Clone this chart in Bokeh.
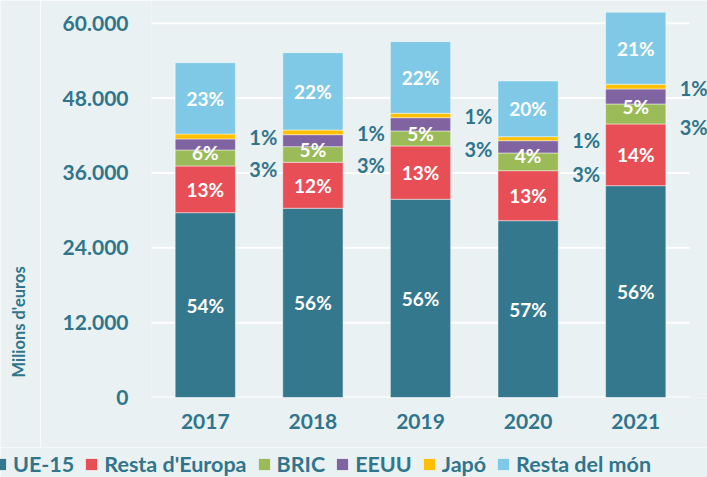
import numpy as np
from bokeh.plotting import figure
from bokeh.layouts import column, row
from bokeh.models import (ColumnDataSource, Range1d, FixedTicker,
                          LabelSet, Legend, LegendItem, Label)
from bokeh.core.properties import value
from bokeh.embed import file_html
from bokeh.resources import INLINE

# ---------------- data ----------------
years = ["2017", "2018", "2019", "2020", "2021"]
series = ["UE-15", "Resta d'Europa", "BRIC", "EEUU", "Japó", "Resta del món"]

ue15 = [29630, 30340, 31780, 28350, 33960]
resta_europa = [7490, 7375, 8545, 8015, 9895]
bric = [2565, 2500, 2405, 2840, 3205]
eeuu = [1765, 1925, 2135, 1970, 2405]
japo = [800, 750, 705, 640, 755]
resta_mon = [11425, 12395, 11480, 8930, 11545]

pct_ue15 = ["54%", "56%", "56%", "57%", "56%"]
pct_resta_europa = ["13%", "12%", "13%", "13%", "14%"]
pct_bric = ["6%", "5%", "5%", "4%", "5%"]
pct_eeuu = ["3%", "3%", "3%", "3%", "3%"]
pct_japo = ["1%", "1%", "1%", "1%", "1%"]
pct_resta_mon = ["23%", "22%", "22%", "20%", "21%"]

y_ticks = [0, 12000, 24000, 36000, 48000, 60000]
y_tick_labels = ["0", "12.000", "24.000", "36.000", "48.000", "60.000"]
y_title = "Milions d'euros"

# ---------------- style ----------------
colors = ["#34788E", "#E84E56", "#9BBB59", "#8064A2", "#FFC000", "#7FC9E6"]
bg = "#E9F1F3"
txt = "#30758B"
font = "Lato"


def blank(fig):
    fig.frame_align = False
    fig.background_fill_color = bg
    fig.border_fill_color = bg
    fig.outline_line_color = None
    fig.grid.grid_line_color = None


xs = list(range(len(years)))
keys = ["ue15", "resta_europa", "bric", "eeuu", "japo", "resta_mon"]
src = ColumnDataSource(dict(x=xs, ue15=ue15, resta_europa=resta_europa,
                            bric=bric, eeuu=eeuu, japo=japo, resta_mon=resta_mon))

x_lo = -0.5
x_hi = len(years) - 0.5
p = figure(width=667, height=447, output_backend="svg", toolbar_location=None,
           x_range=Range1d(x_lo, x_hi + 0.167),
           y_range=Range1d(0, 63650),
           min_border_left=111, min_border_right=0, min_border_top=0,
           min_border_bottom=50)
blank(p)

# horizontal grid lines (limited to the category extent)
p.segment(x0=x_lo, x1=x_hi, y0=y_ticks, y1=y_ticks, line_color="white",
          line_width=2, level="underlay")

rs = p.vbar_stack(keys, x="x", width=0.56, source=src, fill_color=colors,
                  line_color="white", line_alpha=0.45, line_width=1)

# axes
p.yaxis.ticker = FixedTicker(ticks=y_ticks)
p.yaxis.major_label_overrides = dict(zip(y_ticks, y_tick_labels))
p.xaxis.ticker = FixedTicker(ticks=xs)
p.xaxis.major_label_overrides = dict(zip(xs, years))
for ax in (p.xaxis[0], p.yaxis[0]):
    ax.axis_line_color = None
    ax.major_tick_line_color = None
    ax.minor_tick_line_color = None
    ax.major_tick_out = 0
    ax.major_tick_in = 0
    ax.major_label_text_font = font
    ax.major_label_text_font_style = "bold"
    ax.major_label_text_color = txt
p.yaxis.major_label_text_font_size = "21px"
p.yaxis.major_label_standoff = 23
p.xaxis.major_label_text_font_size = "21px"
p.xaxis.major_label_standoff = 16

# labels
vals = np.array([ue15, resta_europa, bric, eeuu, japo, resta_mon], dtype=float)
tops = vals.cumsum(axis=0)
bots = tops - vals
mids = (tops + bots) / 2

inner = ColumnDataSource(dict(
    x=xs * 4,
    y=list(mids[0]) + list(mids[1]) + list(tops[2]) + list(mids[5]),
    text=pct_ue15 + pct_resta_europa + pct_bric + pct_resta_mon,
    dy=[0] * 10 + [-3] * 5 + [0] * 5))
p.add_layout(LabelSet(x="x", y="y", text="text", source=inner, y_offset="dy",
                      text_align="center", text_baseline="middle",
                      text_font=value(font), text_font_style="bold",
                      text_font_size="19px", text_color="white"))

outer = ColumnDataSource(dict(
    x=xs * 2,
    y=list(tops[1]) + list(mids[4]),
    text=pct_eeuu + pct_japo,
    dy=[-3] * 5 + [-1] * 5))
p.add_layout(LabelSet(x="x", y="y", text="text", source=outer, y_offset="dy",
                      x_offset=58, text_align="center", text_baseline="middle",
                      text_font=value(font), text_font_style="bold",
                      text_font_size="20px", text_color=txt))

# y-axis title strip (left of the plot)
tf = figure(width=40, height=447, output_backend="svg", toolbar_location=None,
            x_axis_location=None, y_axis_location=None,
            x_range=Range1d(0, 40), y_range=Range1d(0, 447),
            min_border_left=0, min_border_right=0, min_border_top=0,
            min_border_bottom=0)
blank(tf)
tf.add_layout(Label(x=18, y=70, text=y_title, angle=np.pi / 2,
                    text_align="left", text_baseline="middle",
                    text_font=font, text_font_style="bold",
                    text_font_size="16.5px", text_color=txt))

# legend strip (separate figure so that the legend is not clipped)
lg = figure(width=707, height=30, output_backend="svg", toolbar_location=None,
            x_axis_location=None, y_axis_location=None,
            x_range=Range1d(0, 1), y_range=Range1d(0, 1),
            min_border_left=0, min_border_right=0, min_border_top=0,
            min_border_bottom=0)
blank(lg)
dummies = [lg.vbar(x=[0], top=[0], width=0.0, fill_color=c, line_color=None)
           for c in colors]
legend = Legend(items=[LegendItem(label=s, renderers=[r]) for s, r in zip(series, dummies)],
                orientation="horizontal", location=(-7, 0),
                glyph_width=14, glyph_height=14, label_standoff=6, spacing=10,
                padding=0, margin=0, background_fill_alpha=0, border_line_alpha=0,
                label_text_font=font, label_text_font_style="bold",
                label_text_font_size="21.5px", label_text_color=txt)
lg.add_layout(legend)

page = column(row(tf, p, spacing=0), lg, spacing=0)
open("out.html", "w").write(file_html(page, INLINE))
